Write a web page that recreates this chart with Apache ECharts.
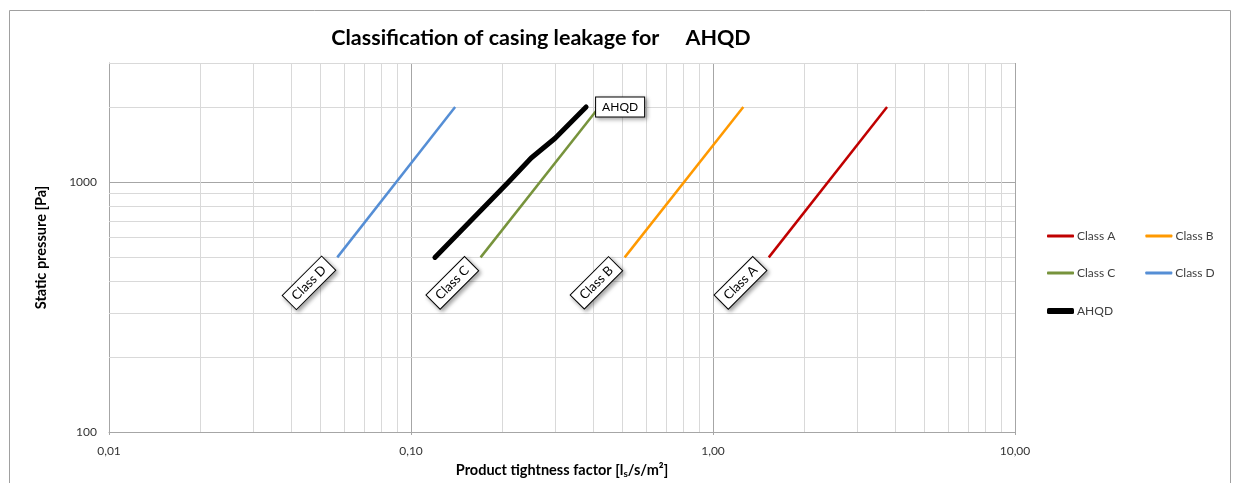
<!DOCTYPE html>
<html>
<head>
<meta charset="utf-8">
<script src="https://cdn.jsdelivr.net/npm/echarts@6/dist/echarts.min.js"></script>
<style>html,body{margin:0;padding:0;background:#fff;overflow:hidden}#c{width:1233px;height:483px}</style>
</head>
<body>
<div id="c"></div>
<script>
// Data (x: product tightness factor, y: static pressure)
const classA = [[1.53, 500], [3.77, 2000]];
const classB = [[0.51, 500], [1.26, 2000]];
const classC = [[0.17, 500], [0.42, 2000]];
const classD = [[0.057, 500], [0.14, 2000]];
const ahqd = [[0.12, 500], [0.21, 1000], [0.25, 1250], [0.30, 1500], [0.38, 2000]];
const xMinorGrid = [0.02,0.03,0.04,0.05,0.06,0.07,0.08,0.09,0.2,0.3,0.4,0.5,0.6,0.7,0.8,0.9,2,3,4,5,6,7,8,9];
const yMinorGrid = [200,300,400,500,600,700,800,900,2000,3000];
const yTickLabels = [100, 1000];

const FONT = 'Lato, "Open Sans", sans-serif';
const chart = echarts.init(document.getElementById('c'), null, {renderer: 'canvas', width: 1233, height: 483});

function classLabel(text) {
  return {
    show: true,
    formatter: text,
    position: 'inside',
    rotate: 45,
    offset: [-38, -2],
    align: 'center',
    verticalAlign: 'middle',
    fontFamily: FONT,
    fontSize: 13,
    color: '#000',
    backgroundColor: '#fff',
    borderColor: '#000',
    borderWidth: 1,
    padding: [3, 6, 3, 6],
    shadowColor: 'rgba(0,0,0,0.35)',
    shadowBlur: 4,
    shadowOffsetX: 2,
    shadowOffsetY: 2
  };
}

function classSeries(name, data, color, text) {
  return {
    name: name,
    type: 'line',
    data: data.map((d, i) => i === 0 ? {value: d, label: classLabel(text)} : {value: d}),
    symbol: 'circle',
    symbolSize: 0,
    showSymbol: true,
    lineStyle: {color: color, width: 2.5},
    itemStyle: {color: color},
    z: 3,
    silent: true
  };
}

const minorLineStyle = {color: '#d9d9d9', width: 1, type: 'solid'};

const option = {
  animation: false,
  backgroundColor: '#fff',
  title: {
    text: 'Classification of casing leakage for     AHQD',
    left: 536,
    top: 22,
    textAlign: 'center',
    textStyle: {fontFamily: FONT, fontSize: 21.5, fontWeight: 'bold', color: '#000'}
  },
  graphic: [{
    type: 'rect',
    shape: {x: 9.5, y: 10.5, width: 1221, height: 520},
    style: {fill: 'none', stroke: '#a0a0a0', lineWidth: 1},
    silent: true,
    z: -10
  }],
  legend: [
    {data: ['Class A', 'Class B'], left: 1042, top: 225, itemGap: 30},
    {data: ['Class C', 'Class D'], left: 1042, top: 262, itemGap: 30},
    {data: ['AHQD'], left: 1042, top: 300, itemHeight: 6}
  ].map(l => Object.assign({
    orient: 'horizontal',
    itemWidth: 27,
    itemHeight: 3,
    icon: 'roundRect',
    textStyle: {fontFamily: FONT, fontSize: 12, color: '#404040', padding: [0, 0, 0, -2]},
    selectedMode: false
  }, l)),
  grid: {left: 109, right: 218, top: 63, bottom: 51, containLabel: false, outerBoundsMode: 'none'},
  xAxis: {
    type: 'log',
    logBase: 10,
    min: 0.01,
    max: 10,
    name: 'Product tightness factor [l{sub|s}/s/m²]',
    nameLocation: 'middle',
    nameGap: 30,
    nameTextStyle: {
      fontFamily: FONT, fontSize: 14.5, fontWeight: 'bold', color: '#000',
      rich: {sub: {fontFamily: FONT, fontSize: 10, fontWeight: 'bold', color: '#000', verticalAlign: 'bottom', padding: [7, 0, 0, 0]}}
    },
    axisLine: {show: true, lineStyle: {color: '#a6a6a6', width: 1}},
    axisTick: {show: true, length: 3, lineStyle: {color: '#a6a6a6'}},
    axisLabel: {
      fontFamily: FONT, fontSize: 12, color: '#333', margin: 13,
      formatter: v => Number(v).toFixed(2).replace('.', ',')
    },
    splitLine: {show: true, lineStyle: {color: '#a6a6a6', width: 1}}
  },
  yAxis: {
    type: 'log',
    logBase: 10,
    min: 100,
    max: 3000,
    name: 'Static pressure [Pa]',
    nameLocation: 'middle',
    nameGap: 60,
    nameTextStyle: {fontFamily: FONT, fontSize: 14.5, fontWeight: 'bold', color: '#000'},
    axisLine: {show: true, lineStyle: {color: '#a6a6a6', width: 1}},
    axisTick: {show: false},
    axisLabel: {
      fontFamily: FONT, fontSize: 12, color: '#333', margin: 12,
      formatter: v => yTickLabels.some(t => Math.abs(t - v) < 1e-6) ? String(Math.round(v)) : ''
    },
    splitLine: {show: true, lineStyle: {color: '#a6a6a6', width: 1}}
  },
  series: [
    {
      name: 'grid',
      type: 'line',
      data: [],
      z: 1,
      silent: true,
      markLine: {
        silent: true,
        symbol: ['none', 'none'],
        label: {show: false},
        lineStyle: minorLineStyle,
        emphasis: {disabled: true},
        z: 1,
        data: xMinorGrid.map(v => ({xAxis: v})).concat(yMinorGrid.map(v => ({yAxis: v})))
      }
    },
    classSeries('Class A', classA, '#c00000', 'Class A'),
    classSeries('Class B', classB, '#ff9900', 'Class B'),
    classSeries('Class C', classC, '#77933c', 'Class C'),
    classSeries('Class D', classD, '#558ed5', 'Class D'),
    {
      name: 'AHQD',
      type: 'line',
      data: ahqd.map((d, i) => i === ahqd.length - 1 ? {value: d, label: {
        show: true, formatter: 'AHQD', position: 'right', distance: 10,
        fontFamily: FONT, fontSize: 12, color: '#000',
        backgroundColor: '#fff', borderColor: '#000', borderWidth: 1,
        padding: [4, 6, 3, 6],
        shadowColor: 'rgba(0,0,0,0.35)', shadowBlur: 4, shadowOffsetX: 2, shadowOffsetY: 2
      }} : {value: d}),
      symbol: 'circle',
      symbolSize: 0,
      showSymbol: true,
      lineStyle: {color: '#000', width: 5, cap: 'round', join: 'round'},
      itemStyle: {color: '#000'},
      z: 4,
      silent: true
    }
  ]
};
chart.setOption(option);
</script>
</body>
</html>
